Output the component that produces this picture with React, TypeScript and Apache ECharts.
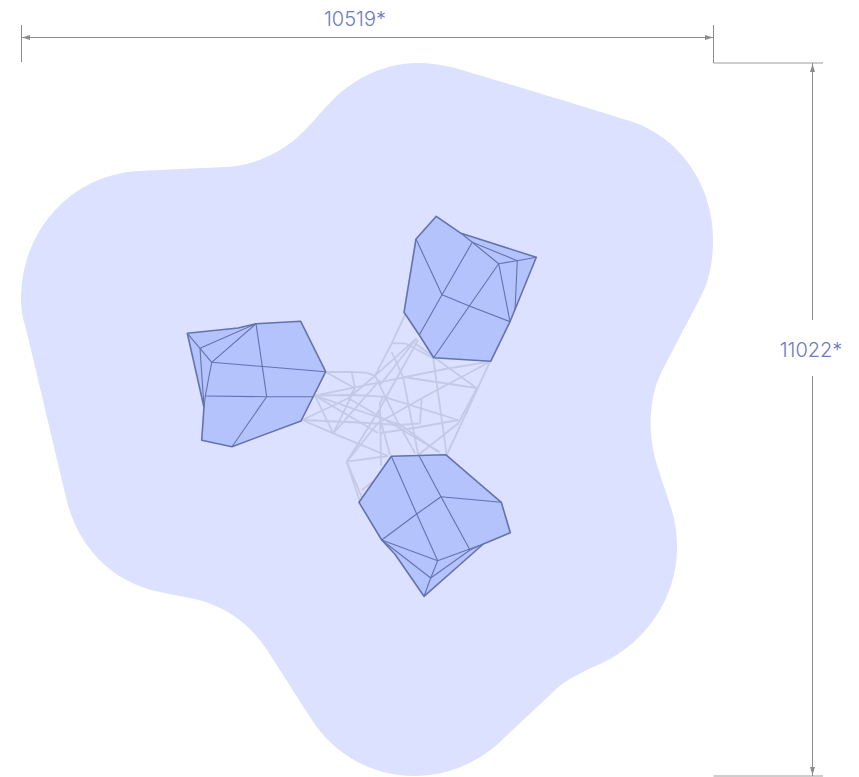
import React, { useEffect, useRef } from "react";
import * as echarts from "echarts";

type Pt = number[];

const widthLabel = "10519*";
const heightLabel = "11022*";

const blobStart: Pt = [455, 68];
const blobCurves: number[][] = [
  [513, 85, 572, 103, 630, 121],
  [680, 137, 713, 185, 713, 240],
  [713, 258, 710, 277, 703, 292],
  [689, 320, 674, 347, 660, 375],
  [648, 402, 648, 437, 657, 465],
  [661, 478, 666, 492, 670, 505],
  [675, 518, 677, 533, 677, 548],
  [677, 598, 645, 643, 602, 663],
  [590, 669, 570, 676, 555, 690],
  [537, 707, 518, 725, 500, 742],
  [478, 762, 448, 776, 415, 776],
  [372, 776, 335, 755, 312, 720],
  [296, 696, 281, 671, 265, 647],
  [248, 622, 222, 604, 190, 598],
  [180, 596, 170, 594, 160, 592],
  [112, 583, 76, 545, 66, 497],
  [52, 440, 39, 382, 25, 325],
  [22, 316, 21, 307, 21, 298],
  [21, 232, 70, 175, 138, 171],
  [167, 170, 196, 168, 225, 167],
  [255, 166, 285, 151, 305, 130],
  [313, 122, 320, 113, 328, 105],
  [350, 80, 383, 63, 418, 63],
  [430, 63, 443, 65, 455, 68],
];

const meshLines: number[][][] = [
  [[325.7, 372], [351.7, 372], [365.7, 372.7], [375, 375.7]],
  [[325.7, 372], [355, 388.3]],
  [[351.7, 372], [355, 388.3], [348.3, 398.3]],
  [[315, 395.7], [352, 395], [383.3, 396.7]],
  [[315, 395.7], [378, 382.7], [445, 369], [490, 361.7]],
  [[302.3, 420], [348.3, 398.3], [375, 375.7]],
  [[302.3, 420], [333.3, 433.3]],
  [[302.3, 420], [368, 423], [398.3, 425]],
  [[315, 395.7], [333.3, 433.3], [355, 388.3]],
  [[315, 395.7], [378, 433]],
  [[315, 395.7], [398, 424]],
  [[333.3, 433.3], [388, 456]],
  [[346.7, 461.7], [378, 412], [418, 340]],
  [[346.7, 461.7], [388, 456]],
  [[346.7, 461.7], [360, 501.7]],
  [[346.7, 461.7], [363, 500]],
  [[362, 490], [375, 480]],
  [[381, 466], [380, 403], [383.3, 396.7]],
  [[378.3, 411.7], [390, 455]],
  [[375, 375.7], [398.3, 423.3], [415, 453]],
  [[375, 375.7], [391.7, 343.3], [405, 315]],
  [[375, 375.7], [416.7, 338.3]],
  [[380, 385], [416.7, 338.3]],
  [[391.7, 343.3], [405, 343.3], [433.3, 358.3], [440, 407], [446.7, 455]],
  [[415, 343.3], [476.7, 388.3]],
  [[391.7, 352], [403, 377], [418.3, 455]],
  [[490, 361.7], [446.7, 455]],
  [[490, 361.7], [421.7, 398.3], [378, 423], [346.7, 461.7]],
  [[476.7, 388.3], [458.3, 423.3]],
  [[383.3, 396.7], [458, 420]],
  [[421.7, 398.3], [420, 423.3], [398.3, 425]],
  [[381, 433], [420, 427], [458.3, 420]],
  [[458.3, 423.3], [418.3, 455]],
  [[398.3, 423.3], [438, 452]],
  [[403, 377], [476, 388]],
  [[348.3, 398.3], [440, 452]],
  [[333.3, 433.3], [380, 380]],
];

const outerRight: Pt[] = [[436.3, 216.3], [416, 239], [404, 312.3], [419.3, 335], [433.7, 357.7], [490.7, 361.3], [510, 321.7], [536.3, 257.3], [461, 233.3]];
const outerLeft: Pt[] = [[187.3, 333.3], [238, 328], [256, 323.7], [300.7, 321.3], [325.7, 371.7], [301, 421], [232, 446.7], [201.7, 440.3], [204, 407.3]];
const outerBottom: Pt[] = [[391.3, 456.3], [445.7, 454.7], [501.3, 502.3], [510.3, 532.7], [483.3, 544], [424, 596.3], [395, 554.3], [381.7, 540], [359, 502.3]];

const innerLines: number[][][] = [
  [[416, 239], [442, 294.7], [419.3, 335]],
  [[442, 294.7], [472.3, 242.3], [461, 233.3]],
  [[442, 294.7], [469.3, 306], [510, 321.7]],
  [[433.7, 357.7], [469.3, 306], [498.7, 263.7], [472.3, 242.3]],
  [[498.7, 263.7], [517.3, 260.7], [536.3, 257.3]],
  [[472.3, 242.3], [517.3, 260.7], [515, 310]],
  [[498.7, 263.7], [510, 321.7]],
  [[187.3, 333.3], [200, 348.3], [211.7, 362.3], [256, 323.7]],
  [[200, 348.3], [256, 323.7], [266.7, 396.7], [232, 446.7]],
  [[200, 348.3], [204, 407.3]],
  [[211.7, 362.3], [325.7, 371.7]],
  [[211.7, 362.3], [205.3, 396], [204, 407.3]],
  [[205.3, 396], [266.7, 396.7], [314, 396.7]],
  [[391.3, 456.3], [416.7, 514], [437.7, 560.7]],
  [[419, 455.7], [441, 496.7], [470, 550]],
  [[441, 496.7], [501.3, 502.3]],
  [[441, 496.7], [416.7, 514], [381.7, 540], [437.7, 560.7]],
  [[381.7, 540], [430.7, 578], [437.7, 560.7], [483.3, 544]],
  [[430.7, 578], [424, 596.3]],
  [[430.7, 578], [470, 550], [483.3, 544]],
];

const dimLines: number[][][] = [
  [[21.5, 37.5], [713.5, 37.5]],
  [[21.5, 25], [21.5, 62]],
  [[713.5, 25], [713.5, 63]],
  [[812.5, 63], [812.5, 320]],
  [[812.5, 376], [812.5, 776]],
];
const extLines: number[][][] = [
  [[713.5, 63], [823, 63]],
  [[713.5, 776], [823, 776]],
];
const arrows: Pt[][] = [
  [[22, 37.5], [30, 35], [30, 40]],
  [[713, 37.5], [705, 35], [705, 40]],
  [[812.5, 64], [810, 72], [815, 72]],
  [[812.5, 775], [810, 767], [815, 767]],
];
const dimLabels: { text: string; at: Pt }[] = [
  { text: widthLabel, at: [355, 19] },
  { text: heightLabel, at: [811, 350] },
];

const BLOB = "#dbe1fe";
const FILL = "#b5c3fc";
const EDGE = "#6473ad";
const FAINT = "#c4cae6";
const DIM = "#8c8c8c";
const EXT = "#bdbdbd";
const LABEL = "#6e7cb8";

function sampleBlob(): Pt[] {
  const out: Pt[] = [blobStart];
  let p = blobStart;
  for (const c of blobCurves) {
    for (let i = 1; i <= 16; i++) {
      const t = i / 16;
      const u = 1 - t;
      out.push([
        u * u * u * p[0] + 3 * u * u * t * c[0] + 3 * u * t * t * c[2] + t * t * t * c[4],
        u * u * u * p[1] + 3 * u * u * t * c[1] + 3 * u * t * t * c[3] + t * t * t * c[5],
      ]);
    }
    p = [c[4], c[5]];
  }
  return out;
}

function polygonSeries(name: string, polys: Pt[][], style: any) {
  return {
    type: "custom",
    name,
    coordinateSystem: "cartesian2d",
    silent: true,
    clip: false,
    data: polys.map((_, i) => [i]),
    renderItem: (params: any, api: any) => ({
      type: "polygon",
      shape: { points: polys[params.dataIndex].map((p) => api.coord(p)) },
      style,
    }),
  };
}

function lineSeries(name: string, lines: number[][][], stroke: string, lineWidth: number) {
  return {
    type: "custom",
    name,
    coordinateSystem: "cartesian2d",
    silent: true,
    clip: false,
    data: lines.map((_, i) => [i]),
    renderItem: (params: any, api: any) => ({
      type: "polyline",
      shape: { points: lines[params.dataIndex].map((p) => api.coord(p)) },
      style: { stroke, lineWidth, fill: "none", lineJoin: "round", lineCap: "butt" },
    }),
  };
}

function textSeries() {
  return {
    type: "custom",
    name: "labels",
    coordinateSystem: "cartesian2d",
    silent: true,
    clip: false,
    data: dimLabels.map((_, i) => [i]),
    renderItem: (params: any, api: any) => {
      const item = dimLabels[params.dataIndex];
      const c = api.coord(item.at);
      return {
        type: "text",
        x: c[0],
        y: c[1],
        style: {
          text: item.text,
          fill: LABEL,
          fontFamily: "Inter",
          fontWeight: 300,
          fontSize: 20,
          align: "center",
          verticalAlign: "middle",
        },
      };
    },
  };
}

export default function App() {
  const ref = useRef<HTMLDivElement>(null);
  useEffect(() => {
    const chart = echarts.init(ref.current!, undefined, { renderer: "svg" });
    chart.setOption({
      animation: false,
      backgroundColor: "#ffffff",
      grid: { left: 0, right: 0, top: 0, bottom: 0 },
      xAxis: { type: "value", min: 0, max: 859, show: false },
      yAxis: { type: "value", min: 0, max: 777, inverse: true, show: false },
      series: [
        polygonSeries("blob", [sampleBlob()], { fill: BLOB }),
        lineSeries("mesh", meshLines, FAINT, 1.8),
        polygonSeries("cells", [outerRight, outerLeft, outerBottom], {
          fill: FILL,
          stroke: EDGE,
          lineWidth: 1.6,
          lineJoin: "round",
        }),
        lineSeries("inner", innerLines, EDGE, 1.1),
        lineSeries("ext", extLines, EXT, 1.6),
        lineSeries("dim", dimLines, DIM, 1),
        polygonSeries("arrows", arrows, { fill: DIM }),
        textSeries(),
      ],
    });
    return () => chart.dispose();
  }, []);
  return (
    <div
      ref={ref}
      style={{ position: "absolute", left: 0, top: 0, width: 859, height: 777, overflow: "hidden" }}
    />
  );
}
